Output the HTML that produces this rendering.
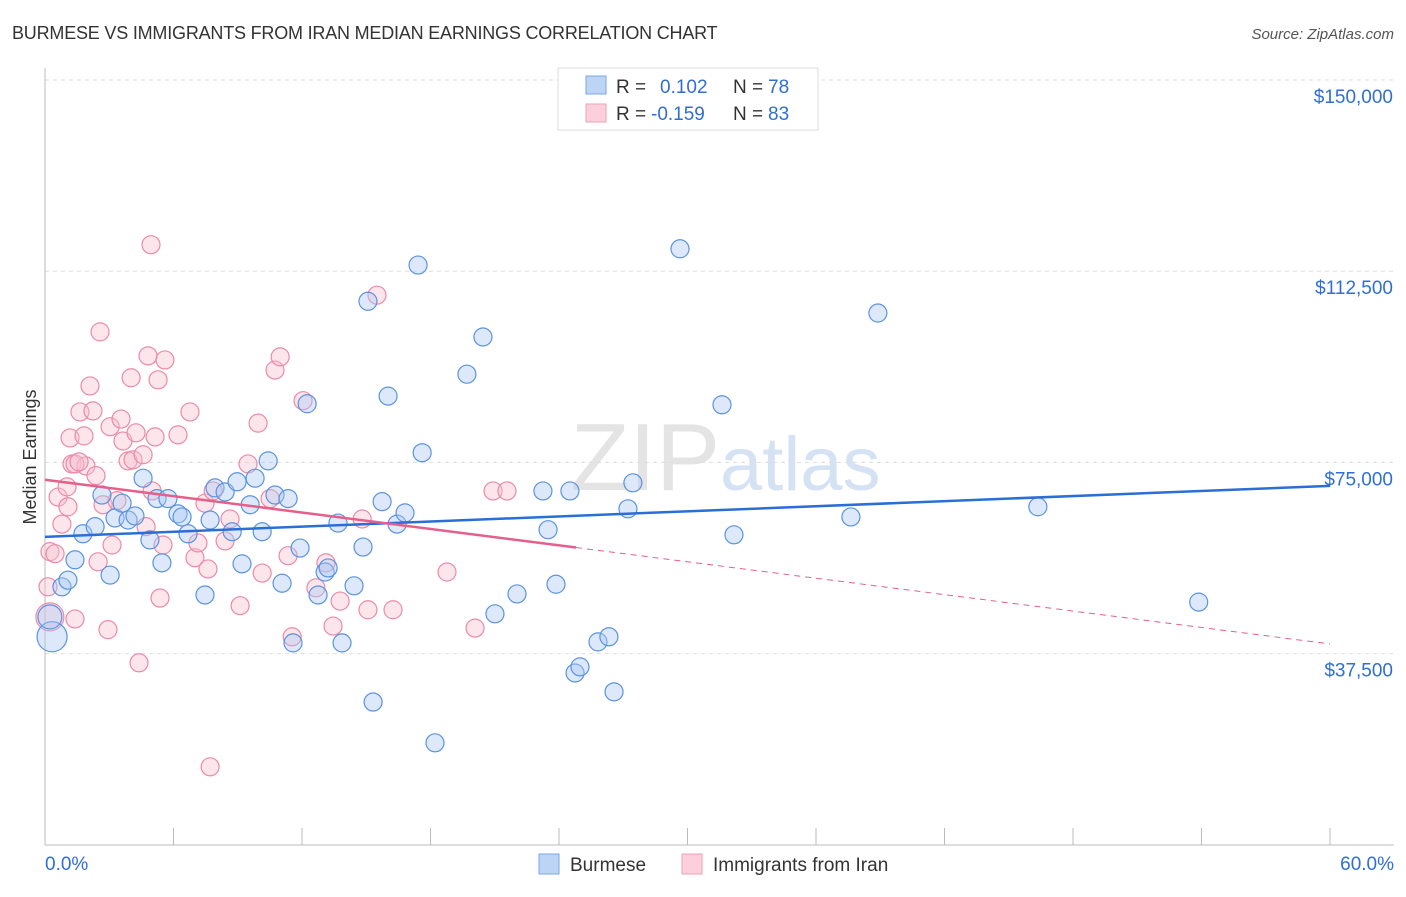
<!DOCTYPE html>
<html><head><meta charset="utf-8"><style>
body{margin:0;background:#fff;font-family:"Liberation Sans",sans-serif;}
svg text{font-family:"Liberation Sans",sans-serif;}
</style></head><body>
<svg id="chart" width="1406" height="892" xmlns="http://www.w3.org/2000/svg">
<text x="12" y="39" font-size="18" fill="#333" letter-spacing="-0.2">BURMESE VS IMMIGRANTS FROM IRAN MEDIAN EARNINGS CORRELATION CHART</text>
<text x="1394" y="39" font-size="15" fill="#555" font-style="italic" text-anchor="end">Source: ZipAtlas.com</text>
<text x="720" y="490" font-size="96" fill="#e4e4e4" text-anchor="end" font-family="Liberation Serif">ZIP</text>
<text x="720" y="490" font-size="76" fill="#d4e2f3">atlas</text>
<text transform="translate(36,457) rotate(-90)" font-size="18" fill="#333" text-anchor="middle">Median Earnings</text>
<g id="grid"></g><g id="pts"></g><g id="lines"></g>
<g>
<rect x="558" y="68" width="260" height="62" fill="#fff" stroke="#ddd"/>
<rect x="586" y="76" width="20" height="18" fill="#bcd5f5" stroke="#7aa7e6"/>
<rect x="586" y="104" width="20" height="18" fill="#fbd0dc" stroke="#f0a0b6"/>
<text y="93" font-size="19" fill="#333"><tspan x="616">R = </tspan><tspan x="660" fill="#2f6fd4">0.102</tspan><tspan x="733">N = </tspan><tspan x="768" fill="#2f6fd4">78</tspan></text>
<text y="120" font-size="19" fill="#333"><tspan x="616">R = </tspan><tspan x="651" fill="#2f6fd4">-0.159</tspan><tspan x="733">N = </tspan><tspan x="768" fill="#2f6fd4">83</tspan></text>
</g>
<g>
<rect x="539" y="854" width="20" height="20" fill="#bcd5f5" stroke="#7aa7e6"/>
<text x="570" y="871" font-size="19" fill="#333">Burmese</text>
<rect x="682" y="854" width="20" height="20" fill="#fbd0dc" stroke="#f0a0b6"/>
<text x="713" y="871" font-size="19" fill="#333">Immigrants from Iran</text>
</g>
<text x="45" y="870" font-size="19" fill="#2f6fd4">0.0%</text>
<text x="1394" y="870" font-size="19" fill="#2f6fd4" text-anchor="end">60.0%</text>
</svg>
<script>
const yTicks=[150000,112500,75000,37500];
const yTickLabels=["$150,000","$112,500","$75,000","$37,500"];
const xTicks=[0,6,12,18,24,30,36,42,48,54,60];
const bluePts=[[0.33,40800,15],[0.23,44700,12],[0.79,50600],[1.07,51900],[1.40,55900],[1.77,61000],[2.34,62400],[3.04,52900],[2.66,68600],[3.27,64100],[3.60,67000],[3.88,63700],[4.20,64500],[4.58,71900],[4.90,59800],[5.23,67900],[5.46,55300],[5.74,67900],[6.21,64900],[6.40,64300],[6.68,61000],[7.47,49000],[7.71,63700],[7.94,70000],[8.41,69200],[8.74,61400],[8.97,71200],[9.20,55100],[9.58,66700],[9.81,71900],[10.14,61400],[10.42,75300],[10.74,68600],[11.07,51300],[11.35,67900],[11.58,39600],[11.91,58200],[12.24,86500],[12.75,49000],[13.08,53500],[13.22,54300],[13.68,63100],[13.87,39600],[14.43,50800],[14.85,58400],[15.08,106600],[15.32,28000],[15.74,67300],[16.02,88000],[16.44,62900],[16.81,65100],[17.42,113700],[17.61,76900],[18.21,20000],[19.70,92300],[20.45,99600],[21.01,45300],[22.04,49200],[23.25,69400],[23.49,61800],[23.86,51100],[24.51,69400],[24.75,33700],[24.98,34900],[25.82,39800],[26.33,40800],[26.57,30000],[27.22,65900],[27.45,71000],[29.65,116900],[31.61,86300],[32.17,60800],[37.63,64300],[38.89,104300],[46.36,66300],[53.87,47600]];
const pinkPts=[[0.23,44700,14],[0.14,50600],[0.23,57500],[0.47,57100],[0.61,68200],[0.79,62900],[1.03,70200],[1.17,79800],[1.26,74700],[1.07,66300],[1.40,44300],[1.63,84900],[1.82,80200],[1.91,74300],[2.10,90000],[2.24,85100],[2.38,72400],[2.48,55500],[2.57,100600],[2.71,66700],[2.94,42200],[3.04,82000],[3.13,58800],[3.36,67500],[3.55,83500],[3.64,79200],[3.88,75300],[4.02,91600],[4.11,75500],[4.25,80800],[4.39,35700],[4.58,76500],[4.72,62400],[4.81,95900],[4.95,117700],[5.00,69400],[5.14,80000],[5.28,91200],[5.37,48400],[5.51,58800],[5.60,95100],[6.21,80400],[6.77,84900],[7.00,56300],[7.14,59200],[7.47,67000],[7.61,54100],[7.71,15300],[7.85,69400],[8.41,59600],[8.64,63900],[9.11,46900],[9.48,74700],[9.95,82700],[10.14,53300],[10.51,67900],[10.74,93100],[10.98,95700],[11.35,56700],[11.54,40800],[12.05,87100],[12.65,50400],[13.12,55300],[13.45,42900],[13.78,47800],[14.81,63900],[15.08,46100],[15.50,107800],[16.25,46100],[18.77,53500],[20.08,42500],[20.92,69400],[21.57,69400],[1.40,74700],[1.59,75100]];
const blueLine=[[0,60400],[60,70400]];
const pinkLine=[[0,71600],[24.8,58300],[60,39400]];
const X=v=>45+v/60*1285;
const Y=v=>80+(150000-v)/37500*191.2;
const NS="http://www.w3.org/2000/svg";
function mk(tag,attrs,parent){const e=document.createElementNS(NS,tag);for(const k in attrs)e.setAttribute(k,attrs[k]);parent.appendChild(e);return e;}
const grid=document.getElementById('grid');
yTicks.forEach((t,i)=>{
 const l=mk('line',{x1:45,x2:1394,y1:Y(t),y2:Y(t),stroke:'#ddd','stroke-dasharray':'4,4'},grid);
 
 
 const tx=mk('text',{x:1393,y:Y(t)+23,'font-size':19,fill:'#2f6fd4','text-anchor':'end'},grid);
 tx.textContent=yTickLabels[i];
 
 
});
const ax=mk('line',{x1:45,x2:45,y1:68,y2:845,stroke:'#bbb'},grid);


const bx=mk('line',{x1:45,x2:1394,y1:845,y2:845,stroke:'#bbb'},grid);


xTicks.forEach(t=>{
 const l=mk('line',{x1:X(t),x2:X(t),y1:828,y2:845,stroke:'#bbb'},grid);
 
 
});
const pts=document.getElementById('pts');
function drawPts(arr,fill,stroke,name){arr.forEach(p=>{
 const c=mk('circle',{cx:X(p[0]),cy:Y(p[1]),r:p[2]||9,fill:fill,'fill-opacity':0.4,stroke:stroke,'stroke-width':1.2},pts);
 
 
});}
drawPts(pinkPts,'#f8c0d0','#ec8aa8','iran-point');
drawPts(bluePts,'#a9c9f2','#5b93e0','burmese-point');
const lines=document.getElementById('lines');
const bl=mk('line',{x1:X(blueLine[0][0]),y1:Y(blueLine[0][1]),x2:X(blueLine[1][0]),y2:Y(blueLine[1][1]),stroke:'#2a6ed6','stroke-width':2.5},lines);


const pl=mk('line',{x1:X(pinkLine[0][0]),y1:Y(pinkLine[0][1]),x2:X(pinkLine[1][0]),y2:Y(pinkLine[1][1]),stroke:'#e4608a','stroke-width':2.5},lines);


const pd=mk('line',{x1:X(pinkLine[1][0]),y1:Y(pinkLine[1][1]),x2:X(pinkLine[2][0]),y2:Y(pinkLine[2][1]),stroke:'#e4608a','stroke-width':1,'stroke-dasharray':'6,5'},lines);


</script>
</body></html>
